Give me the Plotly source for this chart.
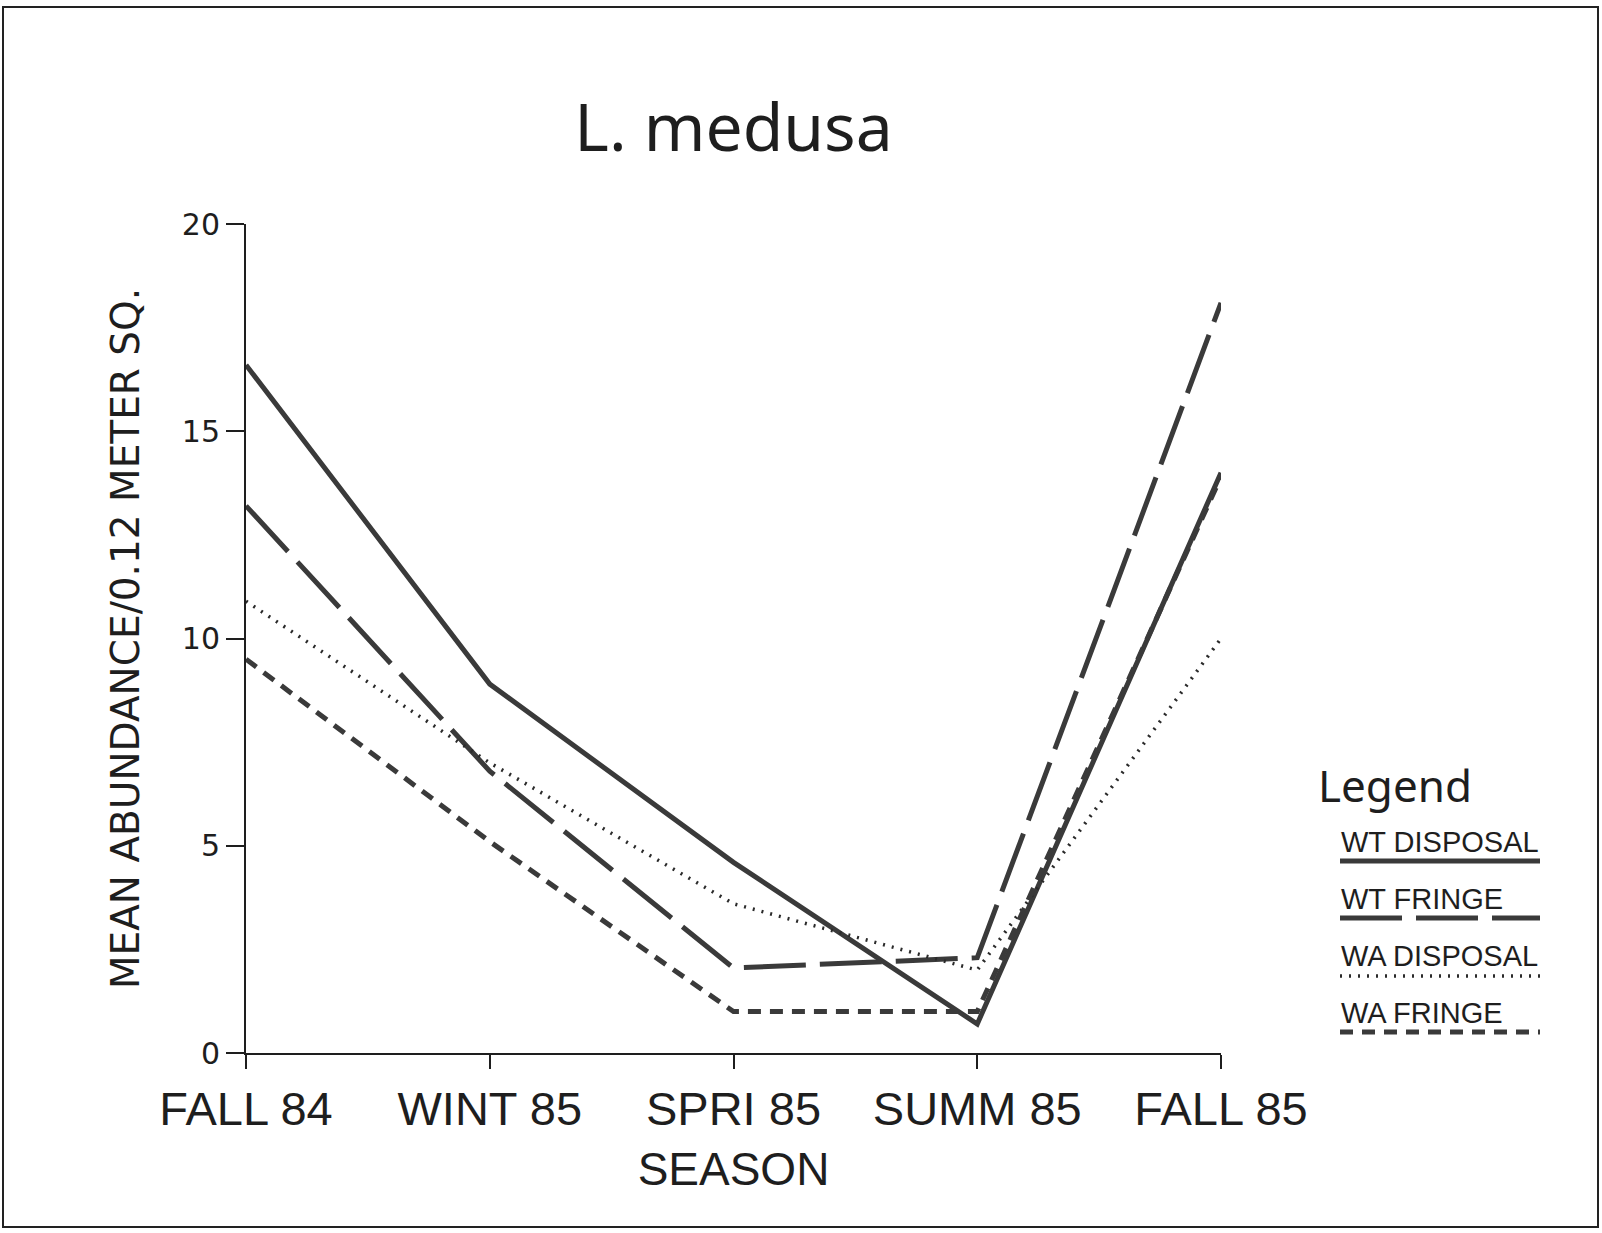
import plotly.graph_objects as go

# ---- data ----
seasons = ["FALL 84", "WINT 85", "SPRI 85", "SUMM 85", "FALL 85"]
wt_disposal = [16.6, 8.9, 4.6, 0.7, 14.0]
wt_fringe = [13.2, 6.8, 2.05, 2.3, 18.1]
wa_disposal = [10.9, 7.0, 3.6, 2.0, 10.0]
wa_fringe = [9.5, 5.1, 1.0, 1.0, 13.9]
series_names = ["WT DISPOSAL", "WT FRINGE", "WA DISPOSAL", "WA FRINGE"]
y_ticks = [0, 5, 10, 15, 20]

# ---- styles ----
styles = [
    dict(color="#3a3a3a", width=5, dash="solid"),
    dict(color="#3a3a3a", width=5, dash="62px,14px"),
    dict(color="#2a2a2a", width=3.5, dash="2px,7px"),
    dict(color="#3a3a3a", width=5, dash="13px,9px"),
]
series_values = [wt_disposal, wt_fringe, wa_disposal, wa_fringe]

W, H = 1602, 1233
L, R, T, B = 246, 1221, 224, 1053  # plot area in pixels


def px(x):
    return (x - L) / (R - L)


def py(y):
    return (B - y) / (B - T)


fig = go.Figure()
xs = list(range(len(seasons)))
for name, vals, st in zip(series_names, series_values, styles):
    fig.add_trace(go.Scatter(x=xs, y=vals, mode="lines", name=name,
                             line=dict(color=st["color"], width=st["width"], dash=st["dash"]),
                             showlegend=False))

ink = "#1e1e1e"
fig.update_layout(
    width=W, height=H,
    margin=dict(l=L, r=W - R, t=T, b=H - B),
    paper_bgcolor="white", plot_bgcolor="white",
    title=dict(text="L. medusa", x=0.5, xref="paper", y=1 - 128 / H, yref="container",
               xanchor="center", yanchor="middle",
               font=dict(family="Noto Sans", size=66, color=ink)),
    xaxis=dict(range=[0, 4], tickmode="array", tickvals=xs, ticktext=seasons,
               showgrid=False, zeroline=False, showline=True, linecolor=ink, linewidth=2,
               ticks="outside", ticklen=14, tickwidth=2, tickcolor=ink,
               tickfont=dict(family="Liberation Sans", size=47, color=ink),
               title=dict(text="SEASON", standoff=18,
                          font=dict(family="Liberation Sans", size=46, color=ink))),
    yaxis=dict(range=[0, 20], tickmode="array", tickvals=y_ticks,
               showgrid=False, zeroline=False, showline=True, linecolor=ink, linewidth=2,
               ticks="outside", ticklen=18, tickwidth=2, tickcolor=ink,
               tickfont=dict(family="DejaVu Sans", size=30, color=ink),
               title=dict(text="MEAN ABUNDANCE/0.12 METER SQ.", standoff=30,
                          font=dict(family="DejaVu Sans", size=39, color=ink))),
)

# ---- page frame ----
fig.add_shape(type="rect", xref="paper", yref="paper",
              x0=px(3), x1=px(1598), y0=py(1227), y1=py(7),
              line=dict(color="#222", width=2))

# ---- legend (text with sample line beneath) ----
fig.add_annotation(text="Legend", xref="paper", yref="paper", x=px(1316), y=py(785),
                   xanchor="left", yanchor="middle", showarrow=False,
                   font=dict(family="Noto Sans", size=44, color=ink))
text_y = [842, 899, 956, 1013]
line_y = [861, 918, 976, 1032]
for name, st, ty, ly in zip(series_names, styles, text_y, line_y):
    fig.add_annotation(text=name, xref="paper", yref="paper", x=px(1339), y=py(ty),
                       xanchor="left", yanchor="middle", showarrow=False,
                       font=dict(family="Liberation Sans", size=29, color=ink))
    fig.add_shape(type="line", xref="paper", yref="paper",
                  x0=px(1340), x1=px(1540), y0=py(ly), y1=py(ly),
                  line=dict(color=st["color"], width=st["width"], dash=st["dash"]))

fig.write_html("out.html", config={"displayModeBar": False},
               post_script="document.body.style.margin='0';document.body.style.overflow='hidden';")
